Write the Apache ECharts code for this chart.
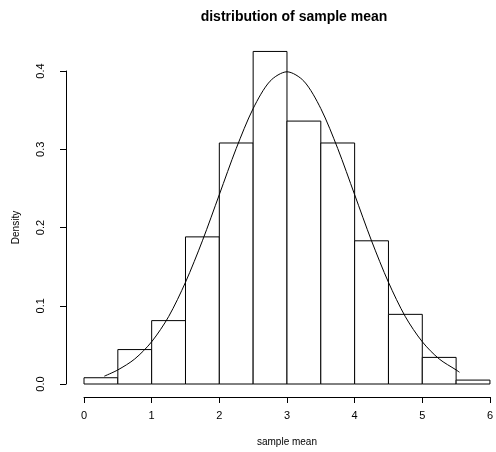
<!DOCTYPE html>
<html>
<head>
<meta charset="utf-8">
<script src="https://cdn.jsdelivr.net/npm/echarts@6/dist/echarts.min.js"></script>
<style>
  html, body { margin: 0; padding: 0; background: #fff; }
  #chart { width: 496px; height: 452px; }
</style>
</head>
<body>
<div id="chart"></div>
<script>
// Histogram bins (sample mean) and their densities
const binStarts = [0, 0.5, 1, 1.5, 2, 2.5, 3, 3.5, 4, 4.5, 5, 5.5];
const binWidth = 0.5;
const binDensity = [0.008, 0.044, 0.081, 0.188, 0.308, 0.425, 0.336, 0.308, 0.183, 0.089, 0.034, 0.005];

// Overlaid density curve
const curveX = [0.3, 0.5, 0.75, 1, 1.25, 1.5, 1.75, 2, 2.25, 2.5, 2.75, 3, 3.25, 3.5, 3.75, 4, 4.25, 4.5, 4.75, 5, 5.25, 5.5, 5.55];
const curveY = [0.010, 0.018, 0.032, 0.054, 0.086, 0.130, 0.183, 0.242, 0.301, 0.352, 0.387, 0.399, 0.387, 0.352, 0.301, 0.242, 0.183, 0.130, 0.086, 0.054, 0.032, 0.018, 0.015];

// Axis ticks
const xTicks = [0, 1, 2, 3, 4, 5, 6];
const yTicks = [0.0, 0.1, 0.2, 0.3, 0.4];

const FONT = '"Liberation Sans", Arial, Helvetica, sans-serif';

const histData = binStarts.map((s, i) => [s, s + binWidth, binDensity[i]]);
const curveData = curveX.map((x, i) => [x, curveY[i]]);

const chart = echarts.init(document.getElementById('chart'), null, { renderer: 'canvas' });

chart.setOption({
  animation: false,
  backgroundColor: '#ffffff',
  title: {
    text: 'distribution of sample mean',
    left: 289,
    top: 5,
    textAlign: 'center',
    textStyle: { fontFamily: FONT, fontWeight: 'bold', fontSize: 14, color: '#000' }
  },
  grid: { left: 84, right: 0, top: 71, bottom: 67, containLabel: false },
  xAxis: {
    type: 'value',
    min: xTicks[0],
    max: xTicks[xTicks.length - 1],
    interval: 1,
    offset: 13,
    name: 'sample mean',
    nameLocation: 'middle',
    nameGap: 40,
    nameTextStyle: { fontFamily: FONT, fontSize: 10, color: '#000' },
    axisLine: { show: true, onZero: false, lineStyle: { color: '#000', width: 1 } },
    axisTick: { show: true, length: 6, lineStyle: { color: '#000' } },
    axisLabel: {
      fontFamily: FONT, fontSize: 11, color: '#000', margin: 13,
      showMinLabel: true, showMaxLabel: true,
      formatter: v => String(v)
    },
    splitLine: { show: false }
  },
  yAxis: {
    type: 'value',
    min: yTicks[0],
    max: yTicks[yTicks.length - 1],
    interval: 0.1,
    offset: 18,
    name: 'Density',
    nameLocation: 'middle',
    nameGap: 45,
    nameRotate: 90,
    nameTextStyle: { fontFamily: FONT, fontSize: 10, color: '#000' },
    axisLine: { show: true, onZero: false, lineStyle: { color: '#000', width: 1 } },
    axisTick: { show: true, length: 6, lineStyle: { color: '#000' } },
    axisLabel: {
      fontFamily: FONT, fontSize: 11, color: '#000', margin: 20, rotate: 90,
      formatter: v => v.toFixed(1)
    },
    splitLine: { show: false }
  },
  series: [
    {
      type: 'custom',
      clip: false,
      data: histData,
      encode: { x: [0, 1], y: 2 },
      renderItem: function (params, api) {
        const p0 = api.coord([api.value(0), 0]);
        const p1 = api.coord([api.value(1), api.value(2)]);
        return {
          type: 'rect',
          shape: { x: p0[0], y: p1[1], width: p1[0] - p0[0], height: p0[1] - p1[1] },
          style: { fill: '#ffffff', stroke: '#000000', lineWidth: 1 }
        };
      },
      z: 2
    },
    {
      type: 'line',
      data: curveData,
      smooth: 0.3,
      showSymbol: false,
      symbol: 'none',
      clip: false,
      lineStyle: { color: '#000', width: 1 },
      z: 3
    }
  ]
});
</script>
</body>
</html>
